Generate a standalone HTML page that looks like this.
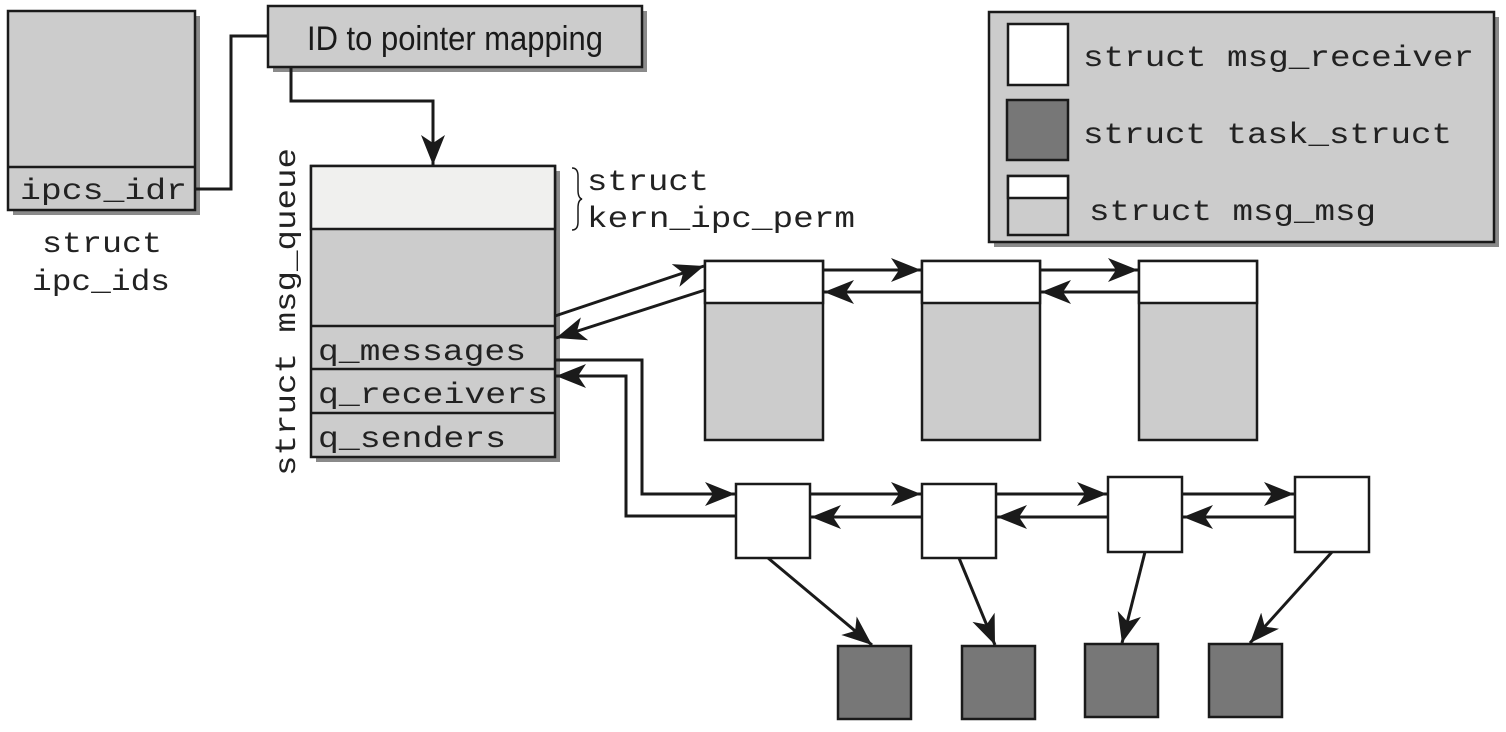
<!DOCTYPE html>
<html><head><meta charset="utf-8"><style>
html,body{margin:0;padding:0;background:#fff;}
svg{display:block;}
.m{font-family:"Liberation Mono",monospace;font-size:30px;fill:#222;}
</style></head><body>
<svg width="1506" height="732" viewBox="0 0 1506 732" xmlns="http://www.w3.org/2000/svg">
<defs>
<marker id="a" markerUnits="userSpaceOnUse" markerWidth="36" markerHeight="28" refX="30" refY="12" orient="auto" viewBox="0 0 36 24">
<path d="M0,0 L30,12 L0,24 L8,12 z" fill="#1a1a1a"/>
</marker>
</defs>
<g stroke="#1a1a1a" stroke-width="2.5">
<rect x="13" y="16" width="187" height="199" fill="#8a8a8a" stroke="none"/>
<rect x="273" y="11" width="374" height="61" fill="#8a8a8a" stroke="none"/>
<rect x="316" y="171" width="244" height="291" fill="#8a8a8a" stroke="none"/>
<rect x="994" y="17" width="505" height="230" fill="#8a8a8a" stroke="none"/>
<rect x="8" y="11" width="187" height="199" fill="#cccccc"/>
<line x1="8" y1="167" x2="195" y2="167"/>
<rect x="268" y="6" width="374" height="61" fill="#cccccc"/>
<rect x="311" y="166" width="244" height="291" fill="#cccccc"/>
<rect x="311" y="166" width="244" height="63" fill="#f0f0ee"/>
<line x1="311" y1="326" x2="555" y2="326"/>
<line x1="311" y1="369" x2="555" y2="369"/>
<line x1="311" y1="413" x2="555" y2="413"/>
<rect x="989" y="12" width="505" height="230" fill="#cccccc"/>
<rect x="1008" y="24" width="60" height="61" fill="#fff"/>
<rect x="1007" y="100" width="61" height="60" fill="#777"/>
<rect x="1008" y="176" width="60" height="59" fill="#cccccc"/>
<rect x="1008" y="176" width="60" height="22" fill="#fff"/>
<rect x="705" y="261" width="118" height="179" fill="#cccccc"/>
<rect x="705" y="261" width="118" height="42" fill="#fff"/>
<rect x="922" y="261" width="118" height="179" fill="#cccccc"/>
<rect x="922" y="261" width="118" height="42" fill="#fff"/>
<rect x="1139" y="261" width="118" height="179" fill="#cccccc"/>
<rect x="1139" y="261" width="118" height="42" fill="#fff"/>
<rect x="736" y="484" width="74" height="74" fill="#fff"/>
<rect x="922" y="484" width="74" height="74" fill="#fff"/>
<rect x="1108" y="477" width="74" height="75" fill="#fff"/>
<rect x="1295" y="477" width="74" height="75" fill="#fff"/>
<rect x="838" y="646" width="73" height="73" fill="#777"/>
<rect x="962" y="646" width="73" height="73" fill="#777"/>
<rect x="1085" y="644" width="73" height="73" fill="#777"/>
<rect x="1209" y="644" width="73" height="73" fill="#777"/>
</g>
<g stroke="#1a1a1a" stroke-width="3" fill="none">
<polyline points="195,189 231,189 231,36 268,36"/>
<polyline points="291,67 291,101 433,101 433,165" marker-end="url(#a)"/>
<line x1="555" y1="316" x2="704" y2="266" marker-end="url(#a)"/>
<line x1="705" y1="290" x2="556" y2="338" marker-end="url(#a)"/>
<line x1="823" y1="270" x2="921" y2="270" marker-end="url(#a)"/>
<line x1="1040" y1="270" x2="1138" y2="270" marker-end="url(#a)"/>
<line x1="922" y1="292" x2="824" y2="292" marker-end="url(#a)"/>
<line x1="1139" y1="292" x2="1041" y2="292" marker-end="url(#a)"/>
<polyline points="555,360 642,360 642,494 735,494" marker-end="url(#a)"/>
<polyline points="736,516 626,516 626,376 556,376" marker-end="url(#a)"/>
<line x1="810" y1="494" x2="921" y2="494" marker-end="url(#a)"/>
<line x1="996" y1="494" x2="1107" y2="494" marker-end="url(#a)"/>
<line x1="1182" y1="494" x2="1294" y2="494" marker-end="url(#a)"/>
<line x1="922" y1="517" x2="811" y2="517" marker-end="url(#a)"/>
<line x1="1108" y1="517" x2="997" y2="517" marker-end="url(#a)"/>
<line x1="1295" y1="517" x2="1183" y2="517" marker-end="url(#a)"/>
<line x1="768" y1="558" x2="872" y2="645" marker-end="url(#a)"/>
<line x1="959" y1="558" x2="995" y2="645" marker-end="url(#a)"/>
<line x1="1145" y1="552" x2="1122" y2="643" marker-end="url(#a)"/>
<line x1="1332" y1="552" x2="1250" y2="643" marker-end="url(#a)"/>
<path d="M572,168 q6,0 6,8 v14 q0,8 4,9 q-4,1 -4,9 v14 q0,8 -6,8" stroke-width="1.5"/>
</g>
<text x="455" y="50" text-anchor="middle" font-family="'Liberation Sans Narrow','Liberation Sans',sans-serif" font-size="34" fill="#1a1a1a" textLength="296" lengthAdjust="spacingAndGlyphs">ID to pointer mapping</text>
<text class="m" x="20" y="199" textLength="167" lengthAdjust="spacingAndGlyphs">ipcs_idr</text>
<text class="m" x="42" y="252" textLength="120" lengthAdjust="spacingAndGlyphs">struct</text>
<text class="m" x="32" y="290" textLength="138" lengthAdjust="spacingAndGlyphs">ipc_ids</text>
<text class="m" x="587" y="190" textLength="122" lengthAdjust="spacingAndGlyphs">struct</text>
<text class="m" x="587" y="227" textLength="268" lengthAdjust="spacingAndGlyphs">kern_ipc_perm</text>
<text class="m" x="318" y="360" textLength="208" lengthAdjust="spacingAndGlyphs">q_messages</text>
<text class="m" x="318" y="403" textLength="230" lengthAdjust="spacingAndGlyphs">q_receivers</text>
<text class="m" x="318" y="447" textLength="188" lengthAdjust="spacingAndGlyphs">q_senders</text>
<text class="m" transform="translate(295,476) rotate(-90)" textLength="328" lengthAdjust="spacingAndGlyphs">struct msg_queue</text>
<text class="m" x="1083" y="66" textLength="391" lengthAdjust="spacingAndGlyphs">struct msg_receiver</text>
<text class="m" x="1083" y="143" textLength="369" lengthAdjust="spacingAndGlyphs">struct task_struct</text>
<text class="m" x="1089" y="220" textLength="287" lengthAdjust="spacingAndGlyphs">struct msg_msg</text>
</svg>
</body></html>
